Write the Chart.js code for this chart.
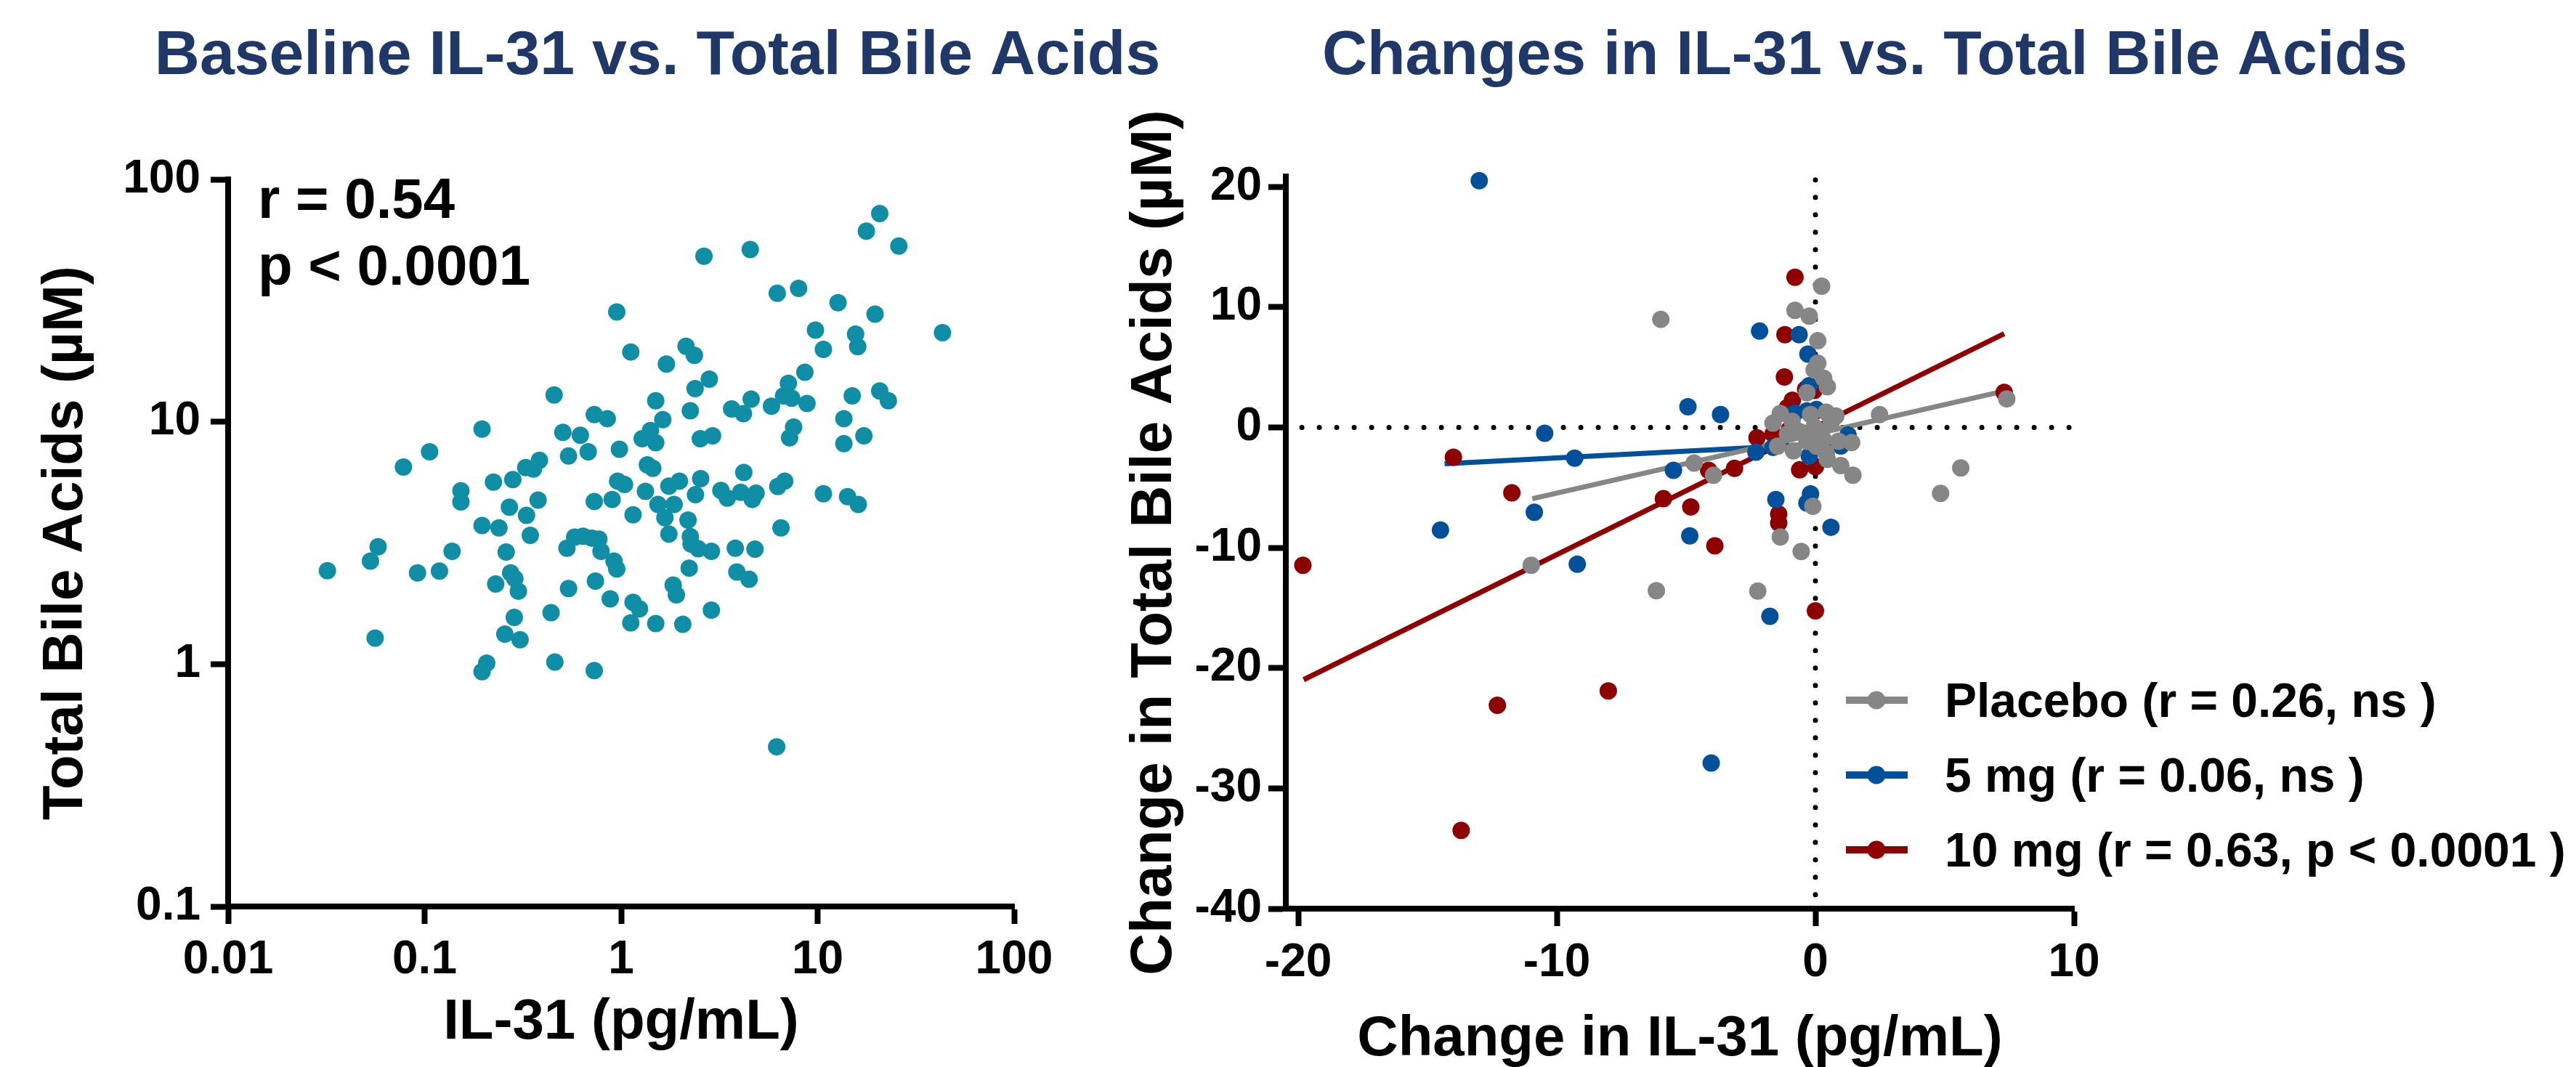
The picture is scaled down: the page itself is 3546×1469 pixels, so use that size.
<!DOCTYPE html>
<html>
<head>
<meta charset="utf-8">
<title>IL-31 vs. Total Bile Acids</title>
<script src="https://cdn.jsdelivr.net/npm/chart.js@4.4.1/dist/chart.umd.min.js"></script>
<style>
  html, body { margin: 0; padding: 0; background: #fff; overflow: hidden; }
  body { position: relative; width: 3546px; height: 1469px; }
  canvas { position: absolute; top: 0; }
  #baselineChart { left: 0; }
  #changeChart { left: 1500px; }
</style>
</head>
<body>
<canvas id="baselineChart" width="1600" height="1469"></canvas>
<canvas id="changeChart" width="2046" height="1469"></canvas>
<script>
// left panel: baseline IL-31 (pg/mL) vs total bile acids (uM), one point per patient
const baselineIL31 = [
  20.7, 17.7, 25.9, 2.64, 4.54, 6.23, 8.0, 12.7, 19.6, 0.95,
  9.75, 43.2, 15.6, 10.7, 16.0, 1.12, 2.14, 2.36, 1.70, 8.61,
  2.81, 2.38, 7.10, 0.456, 1.50, 4.59, 6.71, 7.38, 8.83, 5.82,
  15.0, 20.7, 22.9, 3.65, 4.19, 2.25, 0.73, 0.85, 1.63, 0.196,
  13.6, 7.55, 7.20, 0.505, 0.62, 1.41, 1.28, 1.50, 2.53, 2.92,
  17.2, 13.6, 0.106, 0.078, 0.54, 0.68, 0.98, 0.327, 0.358, 0.384,
  1.36, 1.45, 4.21, 0.153, 0.153, 0.224, 0.281, 0.96, 1.04, 1.98,
  1.75, 2.54, 1.33, 2.39, 3.22, 3.47, 4.06, 4.86, 4.65, 6.27,
  6.80, 10.7, 14.2, 16.1, 0.378, 0.27, 0.33, 0.73, 0.90, 1.54,
  1.86, 1.15, 1.67, 2.19, 0.196, 0.239, 0.345, 1.75, 6.51, 0.58,
  0.64, 0.71, 0.77, 0.53, 0.79, 2.25, 2.27, 2.47, 2.88, 3.81,
  4.80, 0.058, 0.053, 0.032, 0.092, 0.119, 0.138, 0.26, 0.92, 0.95,
  2.22, 3.88, 4.48, 0.274, 0.288, 0.23, 0.30, 0.74, 0.54, 1.84,
  1.91, 0.88, 1.15, 1.24, 2.88, 0.44, 0.286, 1.12, 1.50, 2.06,
  0.256, 0.306, 0.056, 0.207, 0.196, 0.46, 0.73, 6.19
];
const baselineTBA = [
  72.3, 61.2, 53.1, 48.2, 51.4, 33.9, 35.5, 31.0, 27.8, 28.4,
  23.9, 23.3, 23.0, 19.9, 20.4, 19.4, 20.5, 18.8, 17.3, 16.0,
  15.0, 13.7, 14.4, 12.9, 12.2, 12.4, 12.8, 12.5, 11.9, 11.6,
  12.8, 13.4, 12.2, 11.3, 10.8, 11.1, 10.7, 10.3, 10.2, 9.33,
  10.3, 9.51, 8.59, 9.04, 8.79, 9.20, 8.51, 8.20, 8.51, 8.75,
  8.75, 8.13, 7.52, 6.50, 7.22, 7.52, 7.70, 6.47, 6.38, 6.93,
  6.64, 6.43, 6.18, 5.19, 4.67, 5.64, 5.77, 5.69, 5.51, 5.69,
  5.43, 5.82, 5.16, 5.00, 5.21, 4.84, 5.12, 5.07, 4.78, 5.41,
  5.69, 5.05, 4.91, 4.56, 4.75, 4.44, 4.11, 4.69, 4.78, 4.56,
  4.56, 4.13, 4.02, 3.93, 3.73, 3.65, 3.40, 3.44, 3.65, 3.34,
  3.37, 3.31, 3.28, 3.01, 2.92, 3.36, 3.13, 2.99, 2.92, 3.01,
  2.98, 3.05, 2.66, 2.43, 2.38, 2.42, 2.92, 2.90, 2.66, 2.47,
  2.49, 2.40, 2.24, 2.38, 2.25, 2.14, 2.00, 2.20, 2.05, 2.12,
  1.93, 1.86, 1.80, 1.69, 1.67, 1.63, 1.56, 1.48, 1.47, 1.46,
  1.33, 1.26, 1.28, 1.01, 0.93, 1.02, 0.94, 0.456
];
const logTicksX = [0.01, 0.1, 1, 10, 100];
const logTicksY = [0.1, 1, 10, 100];

// right panel: change in IL-31 vs change in total bile acids, by treatment group
const placeboDIL31 = [
  0.09, 0.09, -0.05, 0.32, 0.46, -0.33, -1.36, -1.64, -0.19, 0.42,
  0.79, -1.08, -0.61, -0.05, 0.14, -0.33, -1.46, -0.85, 0.04, 0.42,
  0.89, 1.40, 0.46, 0.98, 1.45, -4.69, -3.94, 2.48, 5.62, 4.84,
  -0.10, -1.36, -0.55, -2.23, 0.24, -5.98, -0.79, -0.24, 7.40, -10.99,
  -6.15, -0.9, 0.6, -0.2, 0.3
];
const placeboDTBA = [
  7.2, 5.33, 4.78, 4.08, 3.37, 2.87, 1.16, 0.35, 1.06, 1.26,
  0.95, -0.55, -0.35, 0.05, -0.55, -1.16, -1.56, -1.96, -1.56, -2.16,
  -1.16, -1.26, -2.67, -3.17, -3.97, -2.97, -3.97, 1.06, -3.37, -5.48,
  -6.55, -9.11, -10.31, -13.6, 11.73, 8.98, 9.73, 9.25, 2.37, -11.46,
  -13.58, 0.5, 0.3, -0.9, -1.0
];
const mg5DIL31 = [
  -13.0, -2.16, -0.63, -0.29, -4.93, -3.67, -0.24, -0.80, -0.33, 0.04,
  -2.30, -1.64, -0.24, 1.26, 0.98, -5.49, -1.53, -0.19, -0.33, 0.60,
  -4.86, -1.76, -10.47, -9.31, -10.87, -14.5, -9.21, -4.03
];
const mg5DTBA = [
  20.5, 8.0, 7.7, 6.09, 1.72, 1.06, 3.47, 1.18, 1.36, 1.48,
  -2.06, -1.66, -2.37, -0.64, -1.55, -3.57, -6.0, -5.53, -6.29, -8.30,
  -9.01, -15.7, -0.49, -2.56, -7.06, -8.54, -11.37, -27.9
];
const mg10DIL31 = [
  -1.18, -1.20, -0.38, -0.05, -0.89, -1.08, 0.0, -2.26, -1.64, -4.13,
  -3.13, -0.61, 0.0, -4.82, -1.42, -1.42, -3.89, 0.0, -1.0, -0.79,
  -14.0, -11.74, -5.88, -19.82, 7.30, -12.3, -8.01, -13.7
];
const mg10DTBA = [
  7.70, 4.19, 3.17, 3.07, 2.26, 1.66, 1.36, -0.86, -0.55, -3.57,
  -3.41, -3.53, -3.27, -6.61, -7.20, -7.94, -9.85, -15.25, -0.15, 12.48,
  -2.48, -5.44, -5.93, -11.46, 2.91, -23.1, -21.9, -33.5
];
// end points of the fitted regression lines
const fitPlaceboX = [-10.95, 7.36];
const fitPlaceboY = [-5.93, 3.05];
const fit5mgX = [-14.34, 1.24];
const fit5mgY = [-3.02, -1.27];
const fit10mgX = [-19.79, 7.30];
const fit10mgY = [-20.97, 7.79];
const groupLabels = ['Placebo (r = 0.26, ns )', '5 mg (r = 0.06, ns )', '10 mg (r = 0.63, p < 0.0001 )'];
const changeTicksX = [-20, -10, 0, 10];
const changeTicksY = [-40, -30, -20, -10, 0, 10, 20];
const zeroSpanX = [-19.86, 9.9];
const zeroSpanY = [20.56, -39.4];

const FONT = "'Liberation Sans', Arial, Helvetica, sans-serif";
const TEAL = '#108EA5';
const GRAY = '#868686';
const BLUE = '#02509A';
const RED = '#8E0000';
const NAVY = '#1F3868';

const toPoints = (xs, ys) => xs.map((x, i) => ({ x, y: ys[i] }));

// free text (titles, stats) drawn on top of the chart
const overlayText = {
  id: 'overlayText',
  afterDraw(chart, args, opts) {
    const ctx = chart.ctx;
    (opts.items || []).forEach(it => {
      ctx.save();
      ctx.font = `bold ${it.size}px ${FONT}`;
      ctx.fillStyle = it.color || '#000';
      ctx.textAlign = it.align || 'left';
      ctx.textBaseline = 'alphabetic';
      ctx.translate(it.x, it.y);
      if (it.rotate) ctx.rotate(it.rotate);
      ctx.fillText(it.text, 0, 0);
      ctx.restore();
    });
  }
};

// legend with a line-and-dot marker, as in the original
const lineLegend = {
  id: 'lineLegend',
  afterDraw(chart, args, opts) {
    const ctx = chart.ctx;
    ctx.save();
    opts.datasets.forEach((idx, i) => {
      const ds = chart.data.datasets[idx];
      const y = opts.y + i * opts.gap;
      ctx.strokeStyle = ds.backgroundColor;
      ctx.lineWidth = 10;
      ctx.beginPath();
      ctx.moveTo(opts.x, y);
      ctx.lineTo(opts.x + 85, y);
      ctx.stroke();
      ctx.fillStyle = ds.backgroundColor;
      ctx.beginPath();
      ctx.arc(opts.x + 42, y, 12.5, 0, Math.PI * 2);
      ctx.fill();
      ctx.fillStyle = '#000';
      ctx.font = `bold ${opts.size}px ${FONT}`;
      ctx.textBaseline = 'alphabetic';
      ctx.fillText(ds.label, opts.x + 136, y + 23);
    });
    ctx.restore();
  }
};

function makeAxis(o) {
  return {
    type: o.type,
    min: o.min,
    max: o.max,
    afterBuildTicks: s => { s.ticks = o.ticks.map(v => ({ value: v })); },
    afterFit: s => { if (s.isHorizontal()) s.height = o.size; else s.width = o.size; },
    grid: { display: true, drawOnChartArea: false, drawTicks: true, tickLength: 24, tickWidth: 8, tickColor: '#000' },
    border: { display: true, width: 8, color: '#000' },
    ticks: {
      padding: o.pad,
      color: '#000',
      autoSkip: false,
      maxRotation: 0,
      font: { family: FONT, size: 64, weight: 'bold' },
      callback: v => String(v)
    },
    title: o.title
      ? { display: true, text: o.title, color: '#000', font: { family: FONT, size: 78, weight: 'bold', lineHeight: 1 }, padding: o.titlePad }
      : { display: false }
  };
}

new Chart(document.getElementById('baselineChart'), {
  type: 'scatter',
  data: {
    datasets: [{
      data: toPoints(baselineIL31, baselineTBA),
      backgroundColor: TEAL,
      pointRadius: 12,
      borderWidth: 0,
      clip: false
    }]
  },
  options: {
    responsive: false,
    animation: false,
    events: [],
    layout: { padding: { left: 0, top: 247, right: 204, bottom: 0 } },
    plugins: {
      legend: { display: false },
      tooltip: { enabled: false },
      overlayText: {
        items: [
          { text: 'Baseline IL-31 vs. Total Bile Acids', x: 905, y: 102, size: 86, color: NAVY, align: 'center' },
          { text: 'r = 0.54', x: 355, y: 300, size: 78 },
          { text: 'p < 0.0001', x: 355, y: 392, size: 78 }
        ]
      }
    },
    scales: {
      x: makeAxis({ type: 'logarithmic', min: 0.01, max: 100, ticks: logTicksX, pad: 12, size: 221,
        title: 'IL-31 (pg/mL)', titlePad: { top: 0, bottom: 22 } }),
      y: makeAxis({ type: 'logarithmic', min: 0.1, max: 100, ticks: logTicksY, pad: 14, size: 314,
        title: 'Total Bile Acids (\u00B5M)', titlePad: { top: 52, bottom: 0 } })
    }
  },
  plugins: [overlayText]
});

const pointStyle = color => ({ backgroundColor: color, borderColor: color, pointRadius: 12, borderWidth: 0, clip: false });
const fitStyle = color => ({ showLine: true, borderColor: color, backgroundColor: color, borderWidth: 7, pointRadius: 0, clip: false });
const zeroStyle = { showLine: true, borderColor: '#000', borderWidth: 7, borderDash: [0.001, 24], borderCapStyle: 'round', pointRadius: 0, clip: false };

new Chart(document.getElementById('changeChart'), {
  type: 'scatter',
  data: {
    datasets: [
      Object.assign({ label: groupLabels[0], data: toPoints(placeboDIL31, placeboDTBA), order: 1 }, pointStyle(GRAY)),
      Object.assign({ label: groupLabels[1], data: toPoints(mg5DIL31, mg5DTBA), order: 2 }, pointStyle(BLUE)),
      Object.assign({ label: groupLabels[2], data: toPoints(mg10DIL31, mg10DTBA), order: 3 }, pointStyle(RED)),
      Object.assign({ data: toPoints(fitPlaceboX, fitPlaceboY), order: 4 }, fitStyle(GRAY)),
      Object.assign({ data: toPoints(fit5mgX, fit5mgY), order: 5 }, fitStyle(BLUE)),
      Object.assign({ data: toPoints(fit10mgX, fit10mgY), order: 6 }, fitStyle(RED)),
      Object.assign({ data: toPoints(zeroSpanX, [0, 0]), order: 7 }, zeroStyle),
      Object.assign({ data: toPoints([0, 0], zeroSpanY), order: 8 }, zeroStyle)
    ]
  },
  options: {
    responsive: false,
    animation: false,
    events: [],
    layout: { padding: { left: 0, top: 243, right: 691, bottom: 0 } },
    plugins: {
      legend: { display: false },
      tooltip: { enabled: false },
      lineLegend: { datasets: [0, 1, 2], x: 1041, y: 964, gap: 103, size: 66 },
      overlayText: {
        items: [
          { text: 'Changes in IL-31 vs. Total Bile Acids', x: 1067, y: 102, size: 86, color: NAVY, align: 'center' },
          { text: 'Change in Total Bile Acids (\u00B5M)', x: 112, y: 747, size: 80, align: 'center', rotate: -Math.PI / 2 }
        ]
      }
    },
    scales: {
      x: makeAxis({ type: 'linear', min: -20.48, max: 10, ticks: changeTicksX, pad: 13, size: 218,
        title: 'Change in IL-31 (pg/mL)', titlePad: { top: 0, bottom: -1 } }),
      y: makeAxis({ type: 'linear', min: -40, max: 20.85, ticks: changeTicksY, pad: 9, size: 270 })
    }
  },
  plugins: [overlayText, lineLegend]
});
</script>
</body>
</html>
